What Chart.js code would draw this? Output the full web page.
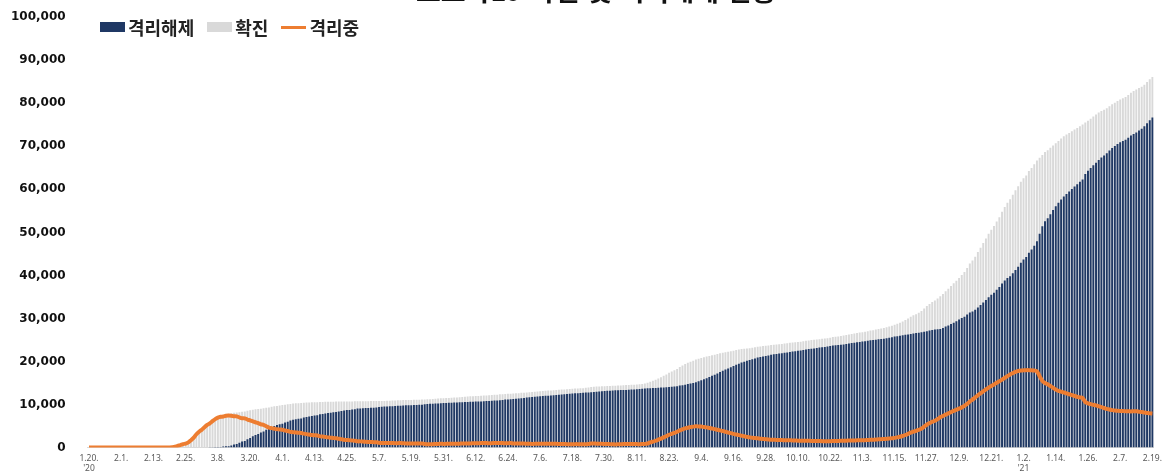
<!DOCTYPE html>
<html lang="ko">
<head>
<meta charset="utf-8">
<title>확진 · 격리해제 · 격리중 현황</title>
<script src="https://cdn.jsdelivr.net/npm/chart.js@4.4.1/dist/chart.umd.min.js"></script>
<style>
  html, body { margin: 0; padding: 0; background: #fff; }
  #wrap { position: relative; width: 1168px; height: 471px; overflow: hidden; }
  #plot { position: absolute; left: 0; top: -12px; width: 1168px; height: 492px; }
  #title {
    position: absolute; top: -30px; left: 0; width: 1168px; text-align: center;
    font: bold 27px "Noto Sans CJK KR", sans-serif; color: #111; padding-left: 12px;
  }
  #legend {
    position: absolute; top: 14px; left: 100px; display: flex; align-items: center;
    font: bold 18px "Noto Sans CJK KR", sans-serif; color: #222;
  }
  #legend span.box { display: inline-block; width: 25px; height: 10px; margin-right: 3px; }
  #legend span.ln { display: inline-block; width: 25px; height: 3px; margin-right: 3px; }
  #legend .item { display: flex; align-items: center; margin-right: 13px; }
</style>
</head>
<body>
<div id="wrap">
  <div id="plot"><canvas id="chart"></canvas></div>
  <div id="title">코로나19 확진 및 격리해제 현황</div>
  <div id="legend"></div>
</div>
<script>
// 2020.1.20 ~ 2021.2.19, daily cumulative values
const startDate = [2020, 0, 20];
const dayCount = 397;
const tickEvery = 12;
const yearTags = { 0: "'20", 348: "'21" };
const yTicks = [0, 10000, 20000, 30000, 40000, 50000, 60000, 70000, 80000, 90000, 100000];

const confirmed = [
  1,1,1,1,2,2,3,4,4,4,6,11,
  12,15,15,16,19,23,24,24,27,27,28,28,28,28,28,29,30,31,51,104,204,433,602,833,977,1261,1766,2337,3150,
  3736,4212,4812,5328,5766,6284,6767,7134,7382,7513,7755,7869,7979,8086,8162,8236,8320,8413,8565,8652,8799,8897,8961,9037,9137,9241,9332,9478,9583,9661,9786,
  9887,9976,10062,10156,10237,10284,10331,10384,10423,10450,10480,10512,10537,10564,10591,10613,10635,10653,10661,10674,10683,10694,10702,10708,10718,10728,10738,10752,10761,10765,
  10774,10780,10793,10801,10804,10806,10810,10822,10840,10874,10909,10936,10962,10991,11018,11037,11050,11065,11078,11110,11122,11142,11165,11190,11206,11225,11265,11344,11402,11441,11468,
  11503,11541,11590,11629,11668,11719,11776,11814,11852,11902,11947,11992,12003,12051,12085,12121,12155,12198,12257,12306,12373,12421,12438,12484,12535,12563,12602,12653,12715,12757,
  12800,12850,12904,12967,13030,13091,13137,13181,13244,13293,13338,13373,13417,13479,13512,13551,13612,13672,13711,13745,13771,13816,13879,13938,14092,14150,14175,14203,14251,14269,14305,
  14336,14366,14389,14423,14456,14499,14519,14562,14598,14626,14660,14714,14770,14873,15039,15318,15515,15761,16058,16346,16670,17002,17399,17665,17945,18265,18706,19077,19400,19699,19947,
  20182,20449,20644,20842,21010,21177,21296,21432,21588,21743,21919,22055,22176,22285,22391,22504,22657,22783,22893,22975,23045,23106,23216,23341,23455,23516,23611,23661,23699,23812,
  23889,23952,24027,24091,24164,24239,24353,24422,24476,24548,24606,24703,24805,24889,24988,25035,25108,25199,25275,25333,25424,25543,25698,25775,25836,25955,26043,26146,26271,26385,26511,
  26635,26732,26807,26925,27050,27195,27284,27427,27553,27653,27799,27942,28133,28338,28546,28769,28998,29311,29654,29997,30403,30733,31004,31353,31735,32318,32887,33375,33824,34201,
  34652,35163,35703,36332,36915,37546,38161,38755,39432,40098,40786,41736,42766,43484,44364,45442,46453,47515,48570,49665,50591,51460,52550,53533,54770,55902,56872,57680,58725,59773,60740,
  61769,62593,63244,64264,64979,65818,66686,67358,68004,68664,69114,69651,70212,70728,71241,71820,72340,72729,73115,73518,73918,74262,74692,75084,75521,75957,76429,76926,77395,77850,78205,
  78508,78844,79311,79762,80131,80523,80896,81185,81487,81930,82434,82837,83199,83525,83869,84325,84946,85567,86128
];

const released = [
  0,0,0,0,0,0,0,0,0,0,0,0,
  0,0,0,0,1,1,1,1,1,1,3,4,4,7,9,9,9,10,12,16,17,18,18,18,22,22,22,24,27,
  30,31,34,41,88,108,118,130,166,247,288,333,510,714,834,1137,1407,1540,1947,2233,2612,2909,3166,3507,3730,4144,4528,4811,5033,5228,5408,
  5567,5828,6021,6325,6463,6598,6694,6776,6973,7117,7243,7368,7447,7534,7757,7829,7937,8042,8114,8213,8277,8411,8501,8635,8717,8764,8854,8922,9059,9072,
  9123,9183,9218,9232,9283,9333,9419,9484,9526,9568,9610,9632,9666,9695,9711,9762,9821,9847,9851,9888,9904,9938,9970,10066,10135,10162,10194,10226,10275,10295,10340,
  10363,10398,10422,10467,10506,10531,10552,10589,10611,10654,10669,10698,10718,10729,10760,10802,10856,10880,10936,10968,11016,11069,11172,11173,11209,11317,11364,11429,11476,11537,
  11613,11684,11759,11811,11848,11914,11970,12020,12065,12129,12164,12204,12282,12348,12396,12466,12527,12583,12610,12643,12698,12727,12779,12806,12848,12905,12959,13007,13066,13133,13183,
  13233,13280,13343,13352,13364,13389,13402,13443,13475,13499,13541,13613,13645,13707,13779,13817,13840,13865,13902,13939,13981,14043,14100,14156,14215,14283,14403,14512,14629,14758,14873,
  14986,15170,15392,15627,15892,16136,16392,16665,16948,17240,17553,17846,18124,18400,18673,18953,19243,19506,19753,19972,20159,20337,20534,20726,20907,21035,21187,21294,21399,21559,
  21664,21745,21839,21931,22022,22115,22238,22325,22407,22498,22574,22679,22789,22882,22989,23054,23145,23245,23329,23395,23485,23592,23715,23760,23820,23917,23983,24065,24178,24280,24385,
  24487,24562,24625,24721,24814,24917,24974,25075,25149,25207,25311,25402,25531,25664,25790,25891,25978,26109,26220,26291,26400,26500,26600,26700,26810,26930,27050,27180,27300,27430,
  27516,27564,27791,28108,28378,28696,28999,29330,29744,30098,30423,30910,31378,31633,32000,32566,33114,33713,34305,34938,35501,36007,36685,37305,38129,38849,39406,39801,40534,41269,42023,
  42927,43685,44270,45274,46023,46896,47948,49704,51434,52578,53312,54233,55178,56078,56875,57638,58342,58915,59485,60072,60656,61184,61748,62274,63595,64315,64971,65602,66205,66844,67385,
  67881,68410,69020,69614,70076,70511,70927,71209,71554,71990,72537,72883,73238,73657,74094,74643,75357,76071,76675
];

const isolating = [
  1,1,1,1,2,2,3,4,4,4,6,11,
  12,15,15,16,18,22,23,23,26,26,25,24,24,21,19,20,21,21,39,87,186,413,579,808,945,1227,1731,2297,3106,
  3688,4159,4750,5255,5643,6134,6605,6954,7165,7212,7407,7470,7402,7300,7253,7024,6832,6789,6527,6325,6085,5884,5684,5410,5281,4966,4665,4523,4398,4275,4216,
  4155,3979,3867,3654,3591,3500,3445,3408,3246,3125,3026,2930,2873,2808,2609,2555,2468,2379,2313,2225,2169,2045,1961,1833,1761,1722,1641,1586,1456,1446,
  1403,1347,1325,1317,1267,1218,1135,1082,1058,1050,1043,1046,1037,1036,1047,1013,967,955,964,959,954,940,929,858,804,794,802,849,858,877,858,
  869,871,895,889,889,915,951,952,967,972,1002,1018,1008,1045,1048,1042,1021,1039,1041,1058,1077,1072,986,1030,1044,964,956,942,957,938,
  904,883,862,873,899,893,882,876,894,877,886,881,846,842,827,796,794,796,807,806,777,793,803,835,946,947,917,896,885,836,821,
  802,785,745,769,790,808,814,815,819,823,814,796,820,861,955,1196,1370,1590,1850,2100,2380,2650,2990,3200,3420,3670,3990,4250,4450,4620,4750,
  4870,4950,4920,4880,4780,4700,4560,4420,4290,4150,4010,3850,3690,3520,3350,3180,3040,2900,2760,2620,2500,2380,2290,2220,2150,2080,2020,1960,1890,1840,
  1810,1790,1770,1740,1720,1700,1690,1670,1640,1620,1600,1590,1580,1570,1560,1540,1520,1510,1500,1490,1490,1500,1530,1560,1560,1580,1600,1620,1630,1640,1660,
  1680,1700,1710,1730,1760,1800,1830,1870,1920,1960,2000,2050,2110,2180,2260,2380,2520,2700,2930,3200,3495,3723,3892,4139,4409,4870,5317,5673,6000,6245,
  6600,7050,7350,7650,7950,8250,8550,8800,9050,9350,9700,10150,10700,11150,11650,12150,12600,13050,13500,13950,14300,14650,15050,15400,15800,16200,16600,17000,17300,17600,17800,
  17900,17950,18000,18000,17950,17900,17700,16600,15500,15000,14700,14300,13900,13500,13200,13000,12800,12600,12400,12200,12000,11800,11650,11500,10600,10300,10100,9950,9800,9600,9400,
  9200,9000,8850,8700,8600,8550,8500,8500,8450,8450,8400,8450,8450,8350,8250,8150,8050,7950,7900
];

const seriesNames = ['격리해제', '확진', '격리중'];
const seriesColors = ['#1f3864', '#d9d9d9', '#ed7d31'];

// day labels like "1.20."
const days = [];
for (let i = 0; i < dayCount; i++) {
  const d = new Date(startDate[0], startDate[1], startDate[2] + i);
  days.push((d.getMonth() + 1) + '.' + d.getDate() + '.');
}

// html legend
const legend = document.getElementById('legend');
seriesNames.forEach((name, i) => {
  const item = document.createElement('div');
  item.className = 'item';
  const mark = document.createElement('span');
  mark.className = i === 2 ? 'ln' : 'box';
  mark.style.background = seriesColors[i];
  item.appendChild(mark);
  item.appendChild(document.createTextNode(name));
  legend.appendChild(item);
});

const ctx = document.getElementById('chart').getContext('2d');
new Chart(ctx, {
  type: 'bar',
  data: {
    labels: days,
    datasets: [
      {
        label: seriesNames[0],
        data: released,
        backgroundColor: seriesColors[0],
        grouped: false,
        barPercentage: 0.72,
        categoryPercentage: 1.0,
        order: 1,
      },
      {
        label: seriesNames[1],
        data: confirmed,
        backgroundColor: seriesColors[1],
        grouped: false,
        barPercentage: 0.72,
        categoryPercentage: 1.0,
        order: 2,
      },
      {
        type: 'line',
        label: seriesNames[2],
        data: isolating,
        borderColor: seriesColors[2],
        borderWidth: 4,
        pointRadius: 0,
        tension: 0.3,
        fill: false,
        order: 0,
      },
    ],
  },
  options: {
    responsive: true,
    maintainAspectRatio: false,
    animation: false,
    layout: { padding: { left: -11, right: 4, top: 0, bottom: 0 } },
    plugins: {
      legend: { display: false },
      tooltip: { enabled: false },
    },
    scales: {
      x: {
        grid: { display: false, drawTicks: false },
        border: { display: true, color: '#d9d9d9' },
        ticks: {
          autoSkip: false,
          maxRotation: 0,
          minRotation: 0,
          padding: 6,
          color: '#595959',
          font: { family: 'Noto Sans', size: 8.5 },
          callback: function (value, index) {
            if (index % tickEvery !== 0) return '';
            const lbl = days[index];
            return yearTags[index] ? [lbl, yearTags[index]] : lbl;
          },
        },
      },
      y: {
        min: yTicks[0],
        max: yTicks[yTicks.length - 1],
        grid: { display: false, drawTicks: false },
        border: { display: false },
        afterBuildTicks: (axis) => { axis.ticks = yTicks.map(v => ({ value: v })); },
        ticks: {
          padding: 22,
          color: '#111',
          font: { family: 'DejaVu Sans', size: 12, weight: 'bold' },
          callback: (v) => v.toLocaleString('en-US'),
        },
      },
    },
  },
});
</script>
</body>
</html>
